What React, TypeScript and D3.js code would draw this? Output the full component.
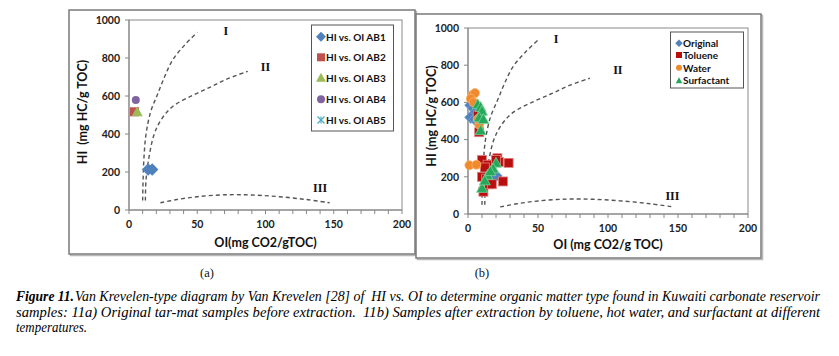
import React from "react";
import * as d3 from "d3";

// ---------- data ----------
const xTicks = [0, 50, 100, 150, 200];
const yTicks = [0, 200, 400, 600, 800, 1000];
const xMinorTicks = d3.range(0, 201, 10);

// Van Krevelen type boundary curves [OI, HI]
const curveI: [number, number][] = [[10, 50], [10.3, 150], [11, 280], [12.5, 400], [16, 520], [21, 610], [26, 700], [32, 790], [41, 870], [50, 935]];
const curveII: [number, number][] = [[12, 50], [12.4, 150], [14, 250], [18.5, 400], [24, 480], [32, 545], [47, 605], [60, 648], [72, 690], [87, 730]];
const curveIII: [number, number][] = [[23, 38], [35, 55], [50, 70], [70, 80], [90, 79], [110, 70], [130, 55], [147, 38]];

const typeLabels = ["I", "II", "III"];
const typeLabelPosA: [number, number][] = [[71, 940], [100, 755], [140, 115]];
const typeLabelPosB: [number, number][] = [[63, 943], [107, 773], [146, 95]];

// Panel (a): original tar-mat samples
const seriesNamesA = ["HI vs. OI AB1", "HI vs. OI AB2", "HI vs. OI AB3", "HI vs. OI AB4", "HI vs. OI AB5"];
const ab1: [number, number][] = [[14, 213], [17, 213]];
const ab2: [number, number][] = [[4, 517]];
const ab3: [number, number][] = [[6, 517]];
const ab4: [number, number][] = [[5, 579]];
const ab5: [number, number][] = [];

// Panel (b): after extraction
const seriesNamesB = ["Original", "Toluene", "Water", "Surfactant"];
const original: [number, number][] = [[2, 585], [4, 570], [2, 520], [5, 510], [7, 495], [6, 550], [8, 530], [12, 215], [14, 230], [16, 200], [18, 215], [20, 205], [15, 250], [13, 190]];
const toluene: [number, number][] = [[8, 440], [7, 530], [10, 290], [14, 265], [21, 300], [22, 280], [29, 275], [25, 175], [10, 200], [11, 120], [15, 160], [13, 190], [17, 160], [20, 290], [12, 250]];
const water: [number, number][] = [[3, 640], [5, 650], [2, 620], [4, 600], [8, 480], [7, 510], [1, 262], [6, 265]];
const surfactant: [number, number][] = [[7, 590], [9, 575], [10, 555], [8, 520], [11, 510], [9, 450], [20, 275], [18, 245], [14, 210], [10, 140], [16, 230], [12, 180]];

const captionLine1Bold = "Figure 11.";
const captionLine1 = "Van Krevelen-type diagram by Van Krevelen [28] of  HI vs. OI to determine organic matter type found in Kuwaiti carbonate reservoir";
const captionLine2 = "samples: 11a) Original tar-mat samples before extraction.  11b) Samples after extraction by toluene, hot water, and surfactant at different";
const captionLine3 = "temperatures.";

// ---------- helpers ----------
const SANS = "Lato, 'Liberation Sans', Arial, sans-serif";
const SERIF = "'Liberation Serif', 'Times New Roman', serif";

type Shape = "diamond" | "square" | "triangle" | "circle" | "star";

function Marker({ shape, x, y, size, fill, stroke }: { shape: Shape; x: number; y: number; size: number; fill: string; stroke?: string }) {
  const s = size;
  if (shape === "diamond") {
    const h = s * 0.62;
    return <path d={`M${x},${y - h}L${x + h},${y}L${x},${y + h}L${x - h},${y}Z`} fill={fill} stroke={stroke || "none"} strokeWidth={0.8} />;
  }
  if (shape === "square") {
    return <rect x={x - s / 2} y={y - s / 2} width={s} height={s} fill={fill} stroke={stroke || "none"} strokeWidth={0.8} />;
  }
  if (shape === "triangle") {
    const h = s * 0.55;
    return <path d={`M${x},${y - h}L${x + h},${y + h * 0.8}L${x - h},${y + h * 0.8}Z`} fill={fill} stroke={stroke || "none"} strokeWidth={0.8} />;
  }
  if (shape === "circle") {
    return <circle cx={x} cy={y} r={s / 2} fill={fill} stroke={stroke || "none"} strokeWidth={0.8} />;
  }
  const r = s / 2;
  return (
    <g stroke={fill} strokeWidth={1.2}>
      <line x1={x - r} y1={y - r} x2={x + r} y2={y + r} />
      <line x1={x - r} y1={y + r} x2={x + r} y2={y - r} />
      <line x1={x} y1={y - r} x2={x} y2={y + r} />
    </g>
  );
}

interface SeriesDef { name: string; data: [number, number][]; shape: Shape; fill: string; stroke?: string; size: number; legendSize: number }

interface PanelProps {
  frame: { x: number; y: number; w: number; h: number };
  plot: { l: number; r: number; t: number; b: number };
  series: SeriesDef[];
  labelPos: [number, number][];
  xTitle: string;
  yTitle: string;
  xTitleY: number;
  yTitleX: number;
  yTitleCY: number;
  legend: { x: number; y: number; w: number; h: number; rowY: number[]; markerX: number; textX: number; fontSize: number };
}

function Panel(p: PanelProps) {
  const x = d3.scaleLinear().domain([0, 200]).range([p.plot.l, p.plot.r]);
  const y = d3.scaleLinear().domain([0, 1000]).range([p.plot.b, p.plot.t]);
  const line = d3.line<[number, number]>().x(d => x(d[0])).y(d => y(d[1])).curve(d3.curveCatmullRom.alpha(0.5));
  const curves = [curveI, curveII, curveIII];
  return (
    <g>
      <rect x={p.frame.x + 1.5} y={p.frame.y + 1.5} width={p.frame.w} height={p.frame.h} fill="none" stroke="#b8b8b8" strokeWidth={1.5} />
      <rect x={p.frame.x} y={p.frame.y} width={p.frame.w} height={p.frame.h} fill="#fff" stroke="#7a7a7a" strokeWidth={1.5} />
      <rect x={p.plot.l} y={p.plot.t} width={p.plot.r - p.plot.l} height={p.plot.b - p.plot.t} fill="#fff" stroke="#8a8a8a" strokeWidth={1} />
      {/* axes */}
      <line x1={p.plot.l} x2={p.plot.r} y1={p.plot.b} y2={p.plot.b} stroke="#868686" strokeWidth={1} />
      <line x1={p.plot.l} x2={p.plot.l} y1={p.plot.t} y2={p.plot.b} stroke="#868686" strokeWidth={1} />
      {xMinorTicks.map(t => (
        <line key={"xm" + t} x1={x(t)} x2={x(t)} y1={p.plot.b} y2={p.plot.b + 4} stroke="#868686" />
      ))}
      {yTicks.map(t => (
        <line key={"yt" + t} x1={p.plot.l - 4} x2={p.plot.l} y1={y(t)} y2={y(t)} stroke="#868686" />
      ))}
      {xTicks.map(t => (
        <text key={"xl" + t} x={x(t)} y={p.plot.b + 18} textAnchor="middle" fontFamily={SANS} fontWeight="bold" fontSize={10.5} fill="#222">{t}</text>
      ))}
      {yTicks.map(t => (
        <text key={"yl" + t} x={p.plot.l - 9} y={y(t) + 3.8} textAnchor="end" fontFamily={SANS} fontWeight="bold" fontSize={10.5} fill="#222">{t}</text>
      ))}
      <text x={(p.plot.l + p.plot.r) / 2} y={p.xTitleY} textAnchor="middle" fontFamily={SANS} fontWeight="bold" fontSize={12.5} fill="#111">{p.xTitle}</text>
      <text transform={`translate(${p.yTitleX},${p.yTitleCY}) rotate(-90)`} textAnchor="middle" fontFamily={SANS} fontWeight="bold" fontSize={12.5} fill="#111" style={{ whiteSpace: "pre" }}>{p.yTitle}</text>
      {/* type curves */}
      {curves.map((c, i) => (
        <path key={"c" + i} d={line(c) || ""} fill="none" stroke="#555" strokeWidth={1.4} strokeDasharray="4,3" />
      ))}
      {typeLabels.map((l, i) => (
        <text key={"tl" + i} x={x(p.labelPos[i][0])} y={y(p.labelPos[i][1]) + 4} textAnchor="middle" fontFamily={SERIF} fontWeight="bold" fontSize={12} fill="#111">{l}</text>
      ))}
      {/* data */}
      {p.series.map((s, si) => (
        <g key={"s" + si}>
          {s.data.map((d, di) => (
            <Marker key={di} shape={s.shape} x={x(d[0])} y={y(d[1])} size={s.size} fill={s.fill} stroke={s.stroke} />
          ))}
        </g>
      ))}
      {/* legend */}
      <rect x={p.legend.x} y={p.legend.y} width={p.legend.w} height={p.legend.h} fill="#fff" stroke="#555" strokeWidth={1} />
      {p.series.map((s, si) => (
        <g key={"lg" + si}>
          <Marker shape={s.shape} x={p.legend.markerX} y={p.legend.rowY[si]} size={s.legendSize} fill={s.fill} />
          <text x={p.legend.textX} y={p.legend.rowY[si] + 3.8} fontFamily={SANS} fontWeight="bold" fontSize={p.legend.fontSize} fill="#111">{s.name}</text>
        </g>
      ))}
    </g>
  );
}

export default function App() {
  const seriesA: SeriesDef[] = [
    { name: seriesNamesA[0], data: ab1, shape: "diamond", fill: "#4F81BD", size: 10, legendSize: 8 },
    { name: seriesNamesA[1], data: ab2, shape: "square", fill: "#C0504D", size: 9, legendSize: 8 },
    { name: seriesNamesA[2], data: ab3, shape: "triangle", fill: "#9BBB59", size: 10, legendSize: 9 },
    { name: seriesNamesA[3], data: ab4, shape: "circle", fill: "#8064A2", size: 8, legendSize: 8 },
    { name: seriesNamesA[4], data: ab5, shape: "star", fill: "#4BACC6", size: 8, legendSize: 7 },
  ];
  const seriesB: SeriesDef[] = [
    { name: seriesNamesB[0], data: original, shape: "diamond", fill: "#4F81BD", stroke: "#7fa3d0", size: 10, legendSize: 6 },
    { name: seriesNamesB[1], data: toluene, shape: "square", fill: "#B80E0E", stroke: "#e08080", size: 9, legendSize: 6 },
    { name: seriesNamesB[2], data: water, shape: "circle", fill: "#F18A2C", stroke: "#f7b070", size: 9, legendSize: 6 },
    { name: seriesNamesB[3], data: surfactant, shape: "triangle", fill: "#25A85A", stroke: "#7cd09a", size: 10, legendSize: 6 },
  ];
  const capY = [301, 317, 332];
  const capFont = 14;
  return (
    <svg width={839} height={356} style={{ position: "absolute", left: 0, top: 0, background: "#fff" }}>
      <Panel
        frame={{ x: 69, y: 10, w: 346, h: 244 }}
        plot={{ l: 129, r: 402, t: 20, b: 210 }}
        series={seriesA}
        labelPos={typeLabelPosA}
        xTitle="OI(mg CO2/gTOC)"
        yTitle={"HI  (mg HC/g TOC)"}
        xTitleY={247}
        yTitleX={87}
        yTitleCY={112}
        legend={{ x: 311.5, y: 25, w: 82, h: 106, rowY: [36.7, 57.3, 77.7, 99.3, 120], markerX: 321, textX: 326, fontSize: 10 }}
      />
      <Panel
        frame={{ x: 416, y: 14, w: 345, h: 244 }}
        plot={{ l: 468, r: 748, t: 28, b: 214 }}
        series={seriesB}
        labelPos={typeLabelPosB}
        xTitle="OI (mg CO2/g TOC)"
        yTitle="HI (mg HC/g TOC)"
        xTitleY={249}
        yTitleX={436}
        yTitleCY={116}
        legend={{ x: 670.5, y: 32, w: 73, h: 56, rowY: [43.3, 55, 67.7, 80.5], markerX: 679, textX: 683, fontSize: 10 }}
      />
      <text x={207} y={277} textAnchor="middle" fontFamily={SERIF} fontSize={12.5} fill="#111">(a)</text>
      <text x={482} y={277} textAnchor="middle" fontFamily={SERIF} fontSize={12.5} fill="#111">(b)</text>
      <text x={16} y={capY[0]} fontFamily={SERIF} fontStyle="italic" fontWeight="bold" fontSize={capFont} fill="#000" textLength={58} lengthAdjust="spacingAndGlyphs">{captionLine1Bold}</text>
      <text x={75} y={capY[0]} fontFamily={SERIF} fontStyle="italic" fontSize={capFont} fill="#000" textLength={745} lengthAdjust="spacingAndGlyphs" style={{ whiteSpace: "pre" }}>{captionLine1}</text>
      <text x={16} y={capY[1]} fontFamily={SERIF} fontStyle="italic" fontSize={capFont} fill="#000" textLength={804} lengthAdjust="spacingAndGlyphs" style={{ whiteSpace: "pre" }}>{captionLine2}</text>
      <text x={16} y={capY[2]} fontFamily={SERIF} fontStyle="italic" fontSize={capFont} fill="#000" textLength={71} lengthAdjust="spacingAndGlyphs">{captionLine3}</text>
    </svg>
  );
}
